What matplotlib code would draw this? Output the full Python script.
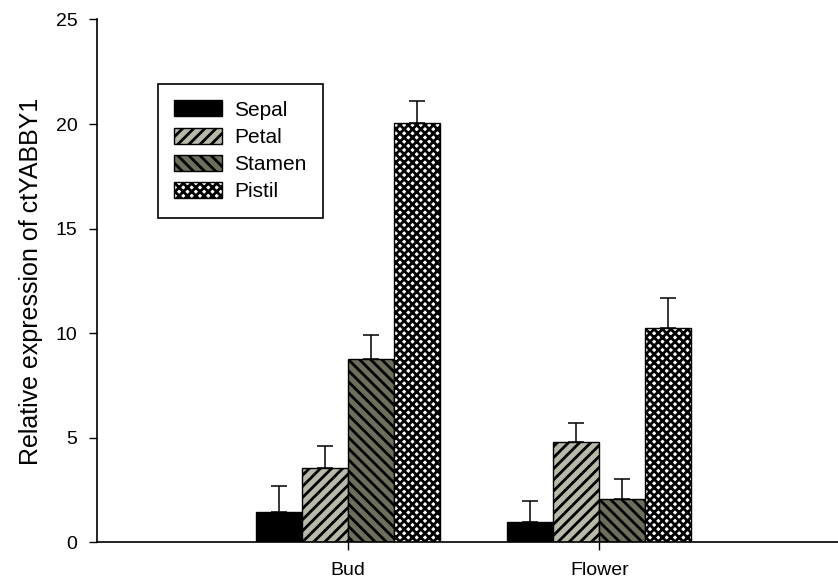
import matplotlib
matplotlib.use("Agg")
import matplotlib.pyplot as plt
import numpy as np

plt.rcParams['font.family'] = ['Liberation Sans', 'DejaVu Sans']
plt.rcParams['hatch.linewidth'] = 2.0

# data
stages = ['Bud', 'Flower']
organs = ['Sepal', 'Petal', 'Stamen', 'Pistil']
sepal = [1.45, 1.0]
petal = [3.55, 4.8]
stamen = [8.77, 2.06]
pistil = [20.06, 10.24]
sepal_err = [1.27, 1.0]
petal_err = [1.05, 0.92]
stamen_err = [1.13, 0.97]
pistil_err = [1.04, 1.46]

values = [sepal, petal, stamen, pistil]
errors = [sepal_err, petal_err, stamen_err, pistil_err]
faces = ['black', '#b9b9aa', '#6e6e5c', 'white']
hatches = [None, '///', '\\\\\\', 'xxxx']

fig = plt.figure(figsize=(8.38, 5.82), dpi=100)
ax = fig.add_axes([0.1157, 0.0679, 0.8843, 0.8986])

x = np.arange(1, len(stages) + 1)
w = 0.183
for i, name in enumerate(organs):
    pos = x + (i - 1.5) * w
    ax.bar(pos, values[i], w, color=faces[i], edgecolor='black', linewidth=1.0,
           hatch=hatches[i], label=name, zorder=2)
    ax.errorbar(pos, values[i], yerr=[np.zeros(len(stages)), errors[i]],
                fmt='none', ecolor='black', elinewidth=1.1, capsize=6,
                capthick=1.1, zorder=3)

ax.set_xlim(0, 2.95)
ax.set_ylim(0, 25)
ax.set_xticks(x)
ax.set_xticklabels(stages)
ax.set_yticks([0, 5, 10, 15, 20, 25])
ax.tick_params(axis='both', direction='out', length=6, width=1.0, labelsize=14)
ax.tick_params(axis='x', pad=8)
ax.tick_params(axis='y', pad=8)
ax.set_ylabel('Relative expression of ctYABBY1', fontsize=18, labelpad=9)
for s in ['top', 'right']:
    ax.spines[s].set_visible(False)
for s in ['left', 'bottom']:
    ax.spines[s].set_linewidth(1.2)

leg = ax.legend(loc='upper left', bbox_to_anchor=(0.082, 0.877), borderaxespad=0,
                fontsize=15, fancybox=False, edgecolor='black', framealpha=1,
                handlelength=2.3, handleheight=0.8, handletextpad=0.58,
                borderpad=0.8, labelspacing=0.38)
leg.get_frame().set_linewidth(1.2)

fig.savefig('out.png', dpi=100)
